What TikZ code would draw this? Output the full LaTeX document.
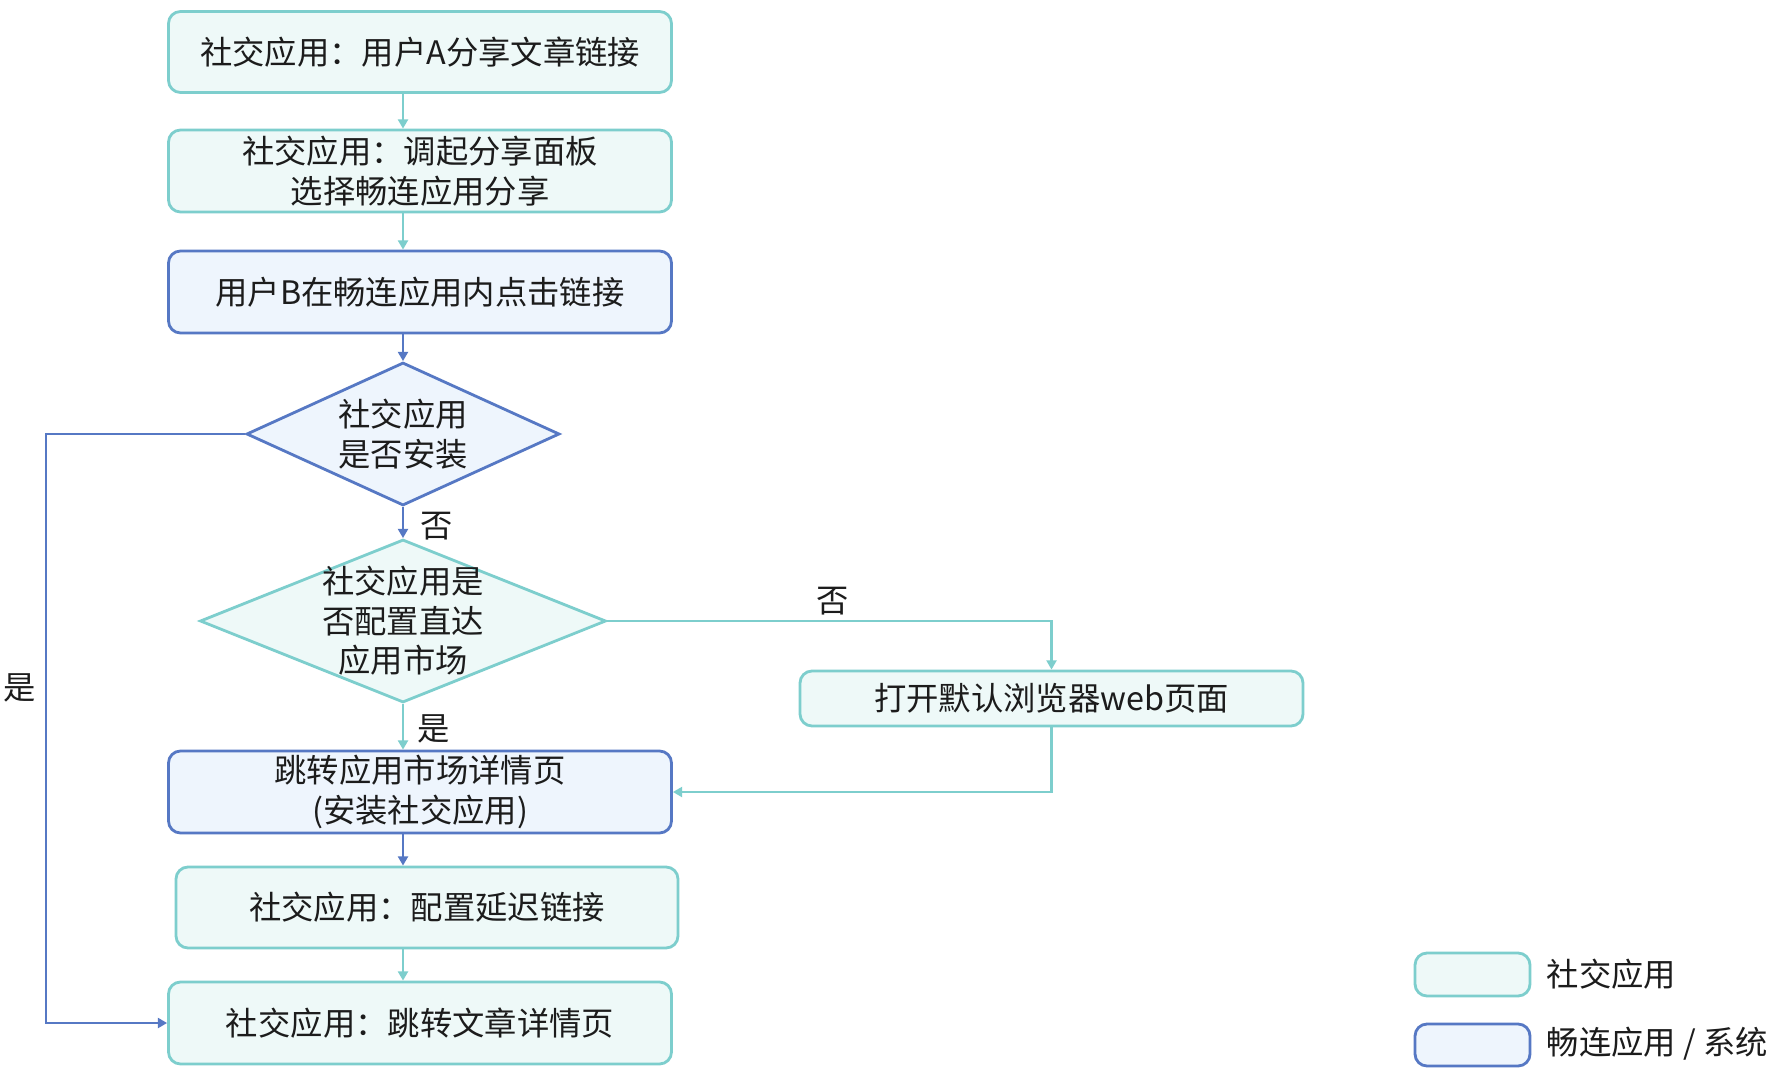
\documentclass[tikz,border=0pt]{standalone}
\usepackage{fontspec}
\newfontfamily\cjk{Noto Sans CJK SC}
\usepackage{xcolor}
\usepackage{tikz}
\usetikzlibrary{
  shapes.geometric,
  arrows.meta,
  positioning
}
\definecolor{SocialTeal}{RGB}{125, 206, 205}
\definecolor{SocialFill}{RGB}{238, 249, 248}
\definecolor{LinkBlue}{RGB}{86, 120, 196}
\definecolor{LinkFill}{RGB}{238, 245, 253}
\definecolor{TextDark}{RGB}{28, 28, 28}
\tikzset{
    every node/.style={font=\cjk\fontsize{9.2}{11.2}\selectfont, text=TextDark},
    socialbox/.style={rectangle, draw=SocialTeal, fill=SocialFill, line width=0.8pt,
        rounded corners=0.12cm, minimum width=5.03cm, minimum height=0.82cm,
        align=center, inner sep=0pt},
    linkbox/.style={socialbox, draw=LinkBlue, fill=LinkFill},
    decision/.style={diamond, draw=LinkBlue, fill=LinkFill, line width=0.8pt, inner sep=0pt},
    socialdecision/.style={decision, draw=SocialTeal, fill=SocialFill},
    dtext/.style={align=center, inner sep=0pt},
    tealarrow/.style={draw=SocialTeal, line width=0.7pt, -{Triangle[length=2.6pt, width=2.8pt]}},
    bluearrow/.style={tealarrow, draw=LinkBlue},
    legendbox/.style={socialbox, minimum width=1.15cm, minimum height=0.43cm}
}

\begin{document}
\begin{tikzpicture}
    \useasboundingbox[fill=white] (0,0) rectangle (17.76,-10.74);

    % main flow
    \node[socialbox, minimum height=0.81cm] (share) at (4.20,-0.52) {社交应用：用户A分享文章链接};
    \node[socialbox] (panel) at (4.20,-1.71) {社交应用：调起分享面板\\选择畅连应用分享};
    \node[linkbox] (click) at (4.20,-2.92) {用户B在畅连应用内点击链接};
    \node[decision, minimum width=3.13cm, minimum height=1.43cm,
        label={[dtext]center:社交应用\\是否安装}] (installed) at (4.03,-4.34) {};
    \node[socialdecision, minimum width=4.06cm, minimum height=1.63cm,
        label={[dtext]center:社交应用是\\否配置直达\\应用市场}] (market) at (4.03,-6.21) {};
    \node[socialbox, minimum height=0.55cm] (web) at (10.515,-6.985) {打开默认浏览器web页面};
    \node[linkbox] (jump) at (4.20,-7.92) {跳转应用市场详情页\\(安装社交应用)};
    \node[socialbox, minimum width=5.02cm, minimum height=0.81cm] (delay) at (4.27,-9.075) {社交应用：配置延迟链接};
    \node[socialbox] (article) at (4.20,-10.23) {社交应用：跳转文章详情页};

    % connectors
    \coordinate (yesbend) at (0.46,-4.34);
    \coordinate (nobend) at (10.515,-6.21);
    \draw[tealarrow] (installed |- share.south) -- (installed |- panel.north);
    \draw[tealarrow] (installed |- panel.south) -- (installed |- click.north);
    \draw[bluearrow] (installed |- click.south) -- (installed.north);
    \draw[bluearrow] (installed.south) -- (market.north);
    \draw[bluearrow] (installed.west) -- (yesbend) |- (article.west);
    \draw[tealarrow] (market.east) -- (nobend) -- (web.north);
    \draw[tealarrow] (market.south) -- (installed |- jump.north);
    \draw[tealarrow] (web.south) |- (jump.east);
    \draw[bluearrow] (installed |- jump.south) -- (installed |- delay.north);
    \draw[tealarrow] (installed |- delay.south) -- (installed |- article.north);

    % branch labels
    \node (notinstalled) at (4.37,-5.26) {否};
    \node (nomarket) at (8.33,-6.01) {否};
    \node (yesmarket) at (4.34,-7.29) {是};
    \node (yesinstalled) at (0.20,-6.88) {是};

    % legend
    \node[legendbox] (legendsocial) at (14.725,-9.745) {};
    \node[legendbox, draw=LinkBlue, fill=LinkFill, minimum height=0.42cm] (legendlink) at (14.725,-10.45) {};
    \node[anchor=west, inner sep=0pt] (legendsocialtext) at (15.46,-9.74) {社交应用};
    \node[anchor=west, inner sep=0pt] (legendlinktext) at (15.46,-10.44) {畅连应用 / 系统};
\end{tikzpicture}
\end{document}
